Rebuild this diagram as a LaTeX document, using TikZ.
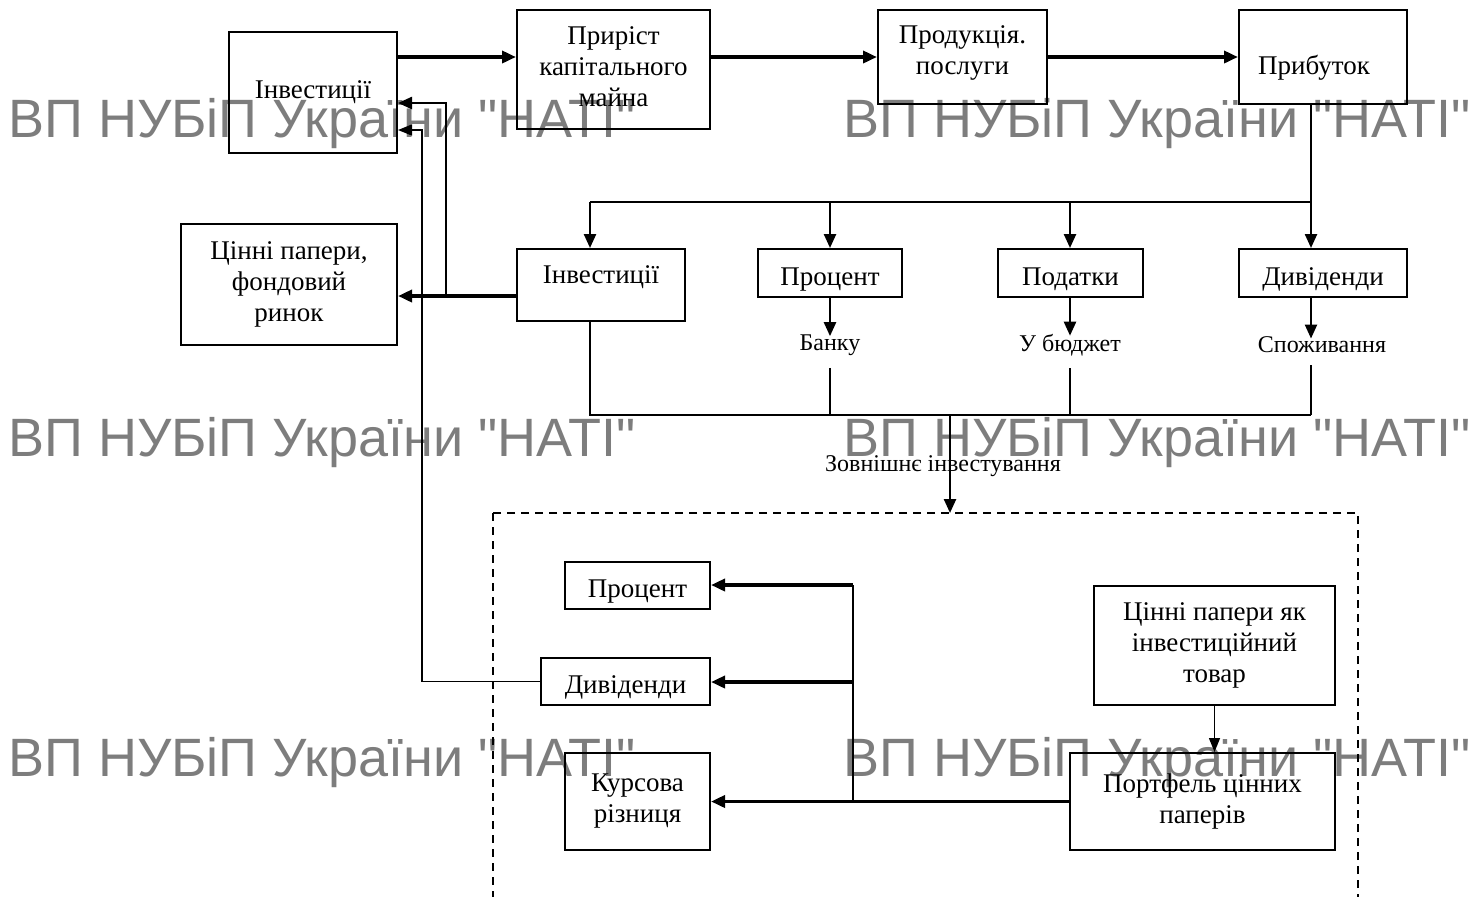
\documentclass[tikz,border=0pt]{standalone}
\usepackage{fontspec}
\setmainfont{Liberation Serif}
\newfontfamily\wmfont{Liberation Sans}
\usetikzlibrary{arrows.meta}
\definecolor{wmgray}{RGB}{125,125,125}
\begin{document}
\begin{tikzpicture}[x=0.5pt,y=-0.5pt,
 box/.style={draw,line width=1pt,inner sep=0pt,align=center,font=\fontsize{13.5}{15.5}\selectfont},
 onebox/.style={box,text height=12pt,text depth=0pt},
 lbl/.style={inner sep=0pt,font=\fontsize{12}{14}\selectfont},
 thk/.style={line width=1.8pt,-{Triangle[length=7pt,width=6pt]}},
 med/.style={line width=1.2pt,-{Triangle[length=7pt,width=6pt]}},
 thn/.style={line width=0.7pt,-{Triangle[length=7pt,width=5.5pt]}},
 medline/.style={line width=1.2pt},
 thnline/.style={line width=0.7pt},
 wm/.style={anchor=west,inner sep=0pt,text=wmgray,font=\wmfont\fontsize{27}{30}\selectfont}]
\useasboundingbox (0,0) rectangle (1484,896);
% watermarks
\node[wm] (w1) at (8,124) {ВП НУБіП України "НАТІ"};
\node[wm] (w2) at (843,124) {ВП НУБіП України "НАТІ"};
\node[wm] (w3) at (8,443) {ВП НУБіП України "НАТІ"};
\node[wm] (w4) at (843,443) {ВП НУБіП України "НАТІ"};
\node[wm] (w5) at (8,763) {ВП НУБіП України "НАТІ"};
\node[wm] (w6) at (843,763) {ВП НУБіП України "НАТІ"};
% boxes
\node[box,minimum width=84pt,minimum height=60.5pt] (inv1) at (313,92.5) {Інвестиції};
\node[box,minimum width=96.5pt,minimum height=59.5pt] (prir) at (613.5,69.5) {};
\node[inner sep=0pt,align=center,font=\fontsize{13.5}{15.5}\selectfont] (prirt) at (613.5,66.5) {Приріст\\капітального\\майна};
\node[box,minimum width=84.5pt,minimum height=47pt] (prod) at (962.5,57) {};
\node[inner sep=0pt,align=center,font=\fontsize{13.5}{15.5}\selectfont] (prodt) at (962.5,53) {Продукція.\\послуги};
\node[draw,line width=1pt,minimum width=84pt,minimum height=47pt] (prib) at (1323,57) {};
\node[inner sep=0pt,font=\fontsize{13.5}{15.5}\selectfont] (pribt) at (1314,68) {Прибуток};
\node[box,minimum width=108pt,minimum height=60.5pt] (cp) at (289,284.5) {Цінні папери,\\фондовий\\ринок};
\node[box,minimum width=84pt,minimum height=36pt] (inv2) at (601,285) {};
\node[inner sep=0pt,font=\fontsize{13.5}{15.5}\selectfont] (inv2t) at (601,277) {Інвестиції};
\node[onebox,minimum width=72pt,minimum height=24pt] (proc1) at (830,273) {Процент};
\node[onebox,minimum width=72.5pt,minimum height=24pt] (pod) at (1070.5,273) {Податки};
\node[onebox,minimum width=84pt,minimum height=24pt] (div1) at (1323,273) {Дивіденди};
\node[lbl] (bank) at (830,345) {Банку};
\node[lbl] (budg) at (1070,345) {У бюджет};
\node[lbl] (spoz) at (1322,345) {Споживання};
\node[onebox,minimum width=72.5pt,minimum height=23.5pt] (proc2) at (637.5,585.5) {Процент};
\node[onebox,minimum width=84.5pt,minimum height=23.5pt] (div2) at (625.5,681.5) {Дивіденди};
\node[box,minimum width=72.5pt,minimum height=48.5pt] (kurs) at (637.5,801.5) {Курсова\\різниця};
\node[box,minimum width=120.5pt,minimum height=59.5pt] (cpt) at (1214.5,645.5) {Цінні папери як\\інвестиційний\\товар};
\node[box,minimum width=132.5pt,minimum height=48.5pt] (port) at (1202.5,801.5) {Портфель цінних\\паперів};
% dashed region
\draw[line width=0.8pt,dash pattern=on 4pt off 3pt] (493,513) rectangle (1358,940);
\coordinate (dtop) at (950,513);
% top chain
\coordinate (y57) at (0,57);
\draw[thk] (inv1.east |- y57) -- (prir.west |- y57);
\draw[thk] (prir.east |- y57) -- (prod.west |- y57);
\draw[thk] (prod.east |- y57) -- (prib.west |- y57);
% distribution
\coordinate (b1) at (590,202);
\coordinate (b2) at (830,202);
\coordinate (b3) at (1070,202);
\coordinate (b4) at (1311,202);
\draw[medline] (prib.south -| b4) -- (b4) -- (b1);
\draw[med] (b1) -- (inv2.north -| b1);
\draw[med] (b2) -- (proc1.north -| b2);
\draw[med] (b3) -- (pod.north -| b3);
\draw[med] (b4) -- (div1.north -| b4);
\draw[med] (proc1.south) -- ([yshift=-1pt]bank.north);
\draw[med] (pod.south -| budg) -- ([yshift=-1pt]budg.north);
\draw[med] (div1.south -| b4) -- ([yshift=-1pt]spoz.north -| b4);
% collector
\coordinate (c1) at (590,415);
\coordinate (c4) at (1311,415);
\coordinate (cm) at (950,415);
\draw[thnline] (inv2.south -| c1) -- (c1) -- (c4);
\draw[medline] ([yshift=-6pt]bank.south) -- (bank.south |- c1);
\draw[thnline] ([yshift=-6pt]budg.south) -- (budg.south |- c1);
\draw[thnline] ([yshift=-6pt]spoz.south -| c4) -- (c4);
\draw[med] (cm) -- (dtop);
\node[lbl] (zovn) at (943,466) {Зовнішнє інвестування};
% feedback from inv2
\coordinate (h) at (446,296);
\coordinate (g) at (446,103);
\draw[thk] (inv2.west |- h) -- (cp.east |- h);
\draw[med] (h) -- (g) -- (inv1.east |- g);
% feedback from div2
\coordinate (fb) at (422,130);
\draw[thn] (div2.west) -| (fb) -- (inv1.east |- fb);
% bottom section
\coordinate (vt) at (853,585);
\coordinate (vm) at (853,682);
\coordinate (vb) at (853,801.5);
\draw[thk] (port.west) -- (kurs.east);
\draw[medline] (vb) -- (vt);
\draw[thk] (vt) -- (proc2.east |- vt);
\draw[thk] (vm) -- (div2.east |- vm);
\draw[thn] (cpt.south) -- (cpt.south |- port.north);
\end{tikzpicture}
\end{document}
